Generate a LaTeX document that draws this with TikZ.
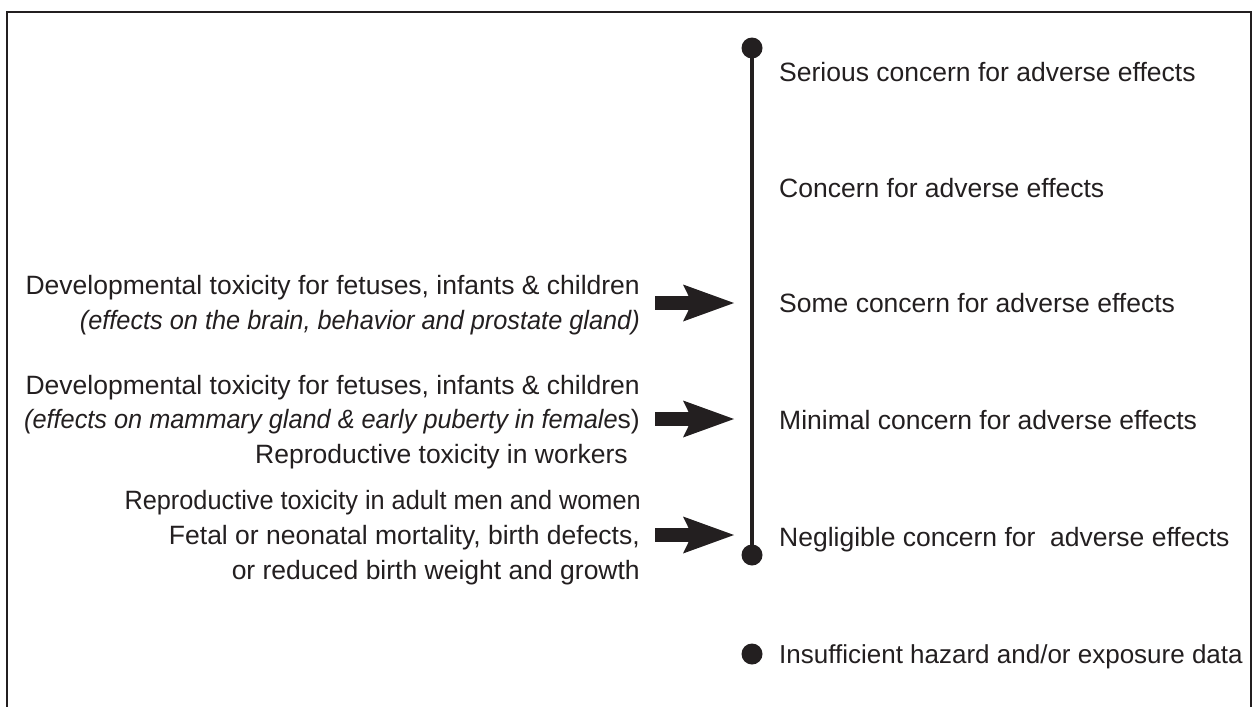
\documentclass[tikz,border=0pt]{standalone}
\usepackage{fontspec}
\setmainfont{Liberation Sans}
\newfontfamily\condfam[FakeStretch=0.955]{Liberation Sans}
\usetikzlibrary{arrows.meta}
\definecolor{ink}{RGB}{35,31,32}
\begin{document}
\begin{tikzpicture}[x=1pt,y=-1pt,
  lab/.style={font=\fontsize{26.5}{30}\selectfont, text=ink, inner sep=0pt},
  rlab/.style={lab, anchor=base west},
  llab/.style={lab, anchor=base east},
  dot/.style={circle, fill=ink, minimum size=21pt, inner sep=0pt},
  scaleline/.style={draw=ink, line width=4pt},
  frameline/.style={draw=ink, line width=2.5pt},
  bigarrow/.style={draw=ink, line width=14pt, -{Stealth[length=51pt,width=37pt,inset=9pt,line width=0pt]}}]
\useasboundingbox (0,0) rectangle (1254,707);
\fill[white] (0,0) rectangle (1254,707);
% frame
\draw[frameline] (7,707) -- (7,12) -- (1251,12) -- (1251,707);
% scale
\node[dot] (topdot) at (752,48) {};
\node[dot] (botdot) at (752,555) {};
\draw[scaleline] (topdot.center) -- (botdot.center);
\node[dot] (insdot) at (752,654) {};
% right labels
\node[rlab] (serious) at (779,81.5) {Serious concern for adverse effects};
\node[rlab] (concern) at (779,197.5) {Concern for adverse effects};
\node[rlab] (some) at (779,312.5) {Some concern for adverse effects};
\node[rlab] (minimal) at (779,429.5) {Minimal concern for adverse effects};
\node[rlab] (negl) at (779,546.5) {Negligible concern for\ \ adverse effects};
\node[rlab, font=\fontsize{26}{30}\selectfont] (insuf) at (779,663.5) {Insufficient hazard and/or exposure data};
% left labels
\node[llab] (g1a) at (640,294.5) {Developmental toxicity for fetuses, infants \& children};
\node[llab] (g1b) at (640,329.5) {\condfam\itshape (effects on the brain, behavior and prostate gland)};
\node[llab] (g2a) at (640,394.5) {Developmental toxicity for fetuses, infants \& children};
\node[llab] (g2b) at (640,428.5) {{\condfam\itshape (effects on mammary gland \& early puberty in female}s)};
\node[llab] (g2c) at (628,463.5) {Reproductive toxicity in workers};
\node[llab] (g3a) at (641,509.5) {\condfam Reproductive toxicity in adult men and women};
\node[llab] (g3b) at (640,544.5) {Fetal or neonatal mortality, birth defects,};
\node[llab] (g3c) at (640,579.5) {or reduced birth weight and growth};
% arrows
\coordinate (a1s) at (655,303); \coordinate (a1e) at (734,303);
\coordinate (a2s) at (655,419); \coordinate (a2e) at (734,419);
\coordinate (a3s) at (655,535); \coordinate (a3e) at (734,535);
\draw[bigarrow] (a1s) -- (a1e);
\draw[bigarrow] (a2s) -- (a2e);
\draw[bigarrow] (a3s) -- (a3e);
\end{tikzpicture}
\end{document}
